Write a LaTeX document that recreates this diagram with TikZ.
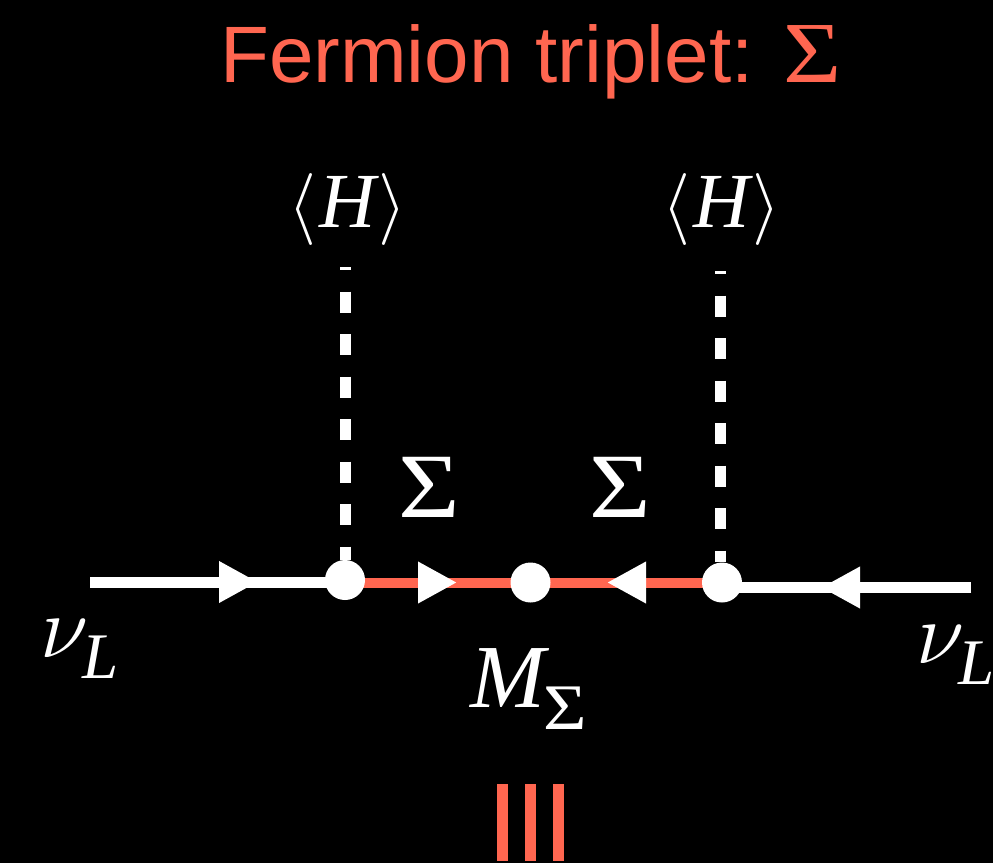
\documentclass[tikz,border=0pt]{standalone}
\usepackage{fix-cm}
\usepackage{fontspec}
\setmainfont{Liberation Serif}
\newfontfamily\titlefont{Liberation Sans}
\usetikzlibrary{arrows.meta}
\definecolor{tripletred}{RGB}{255,102,80}
\newcommand{\fsz}[1]{\fontsize{#1}{#1}\selectfont}
\newcommand{\sig}[1]{{\rmfamily\upshape\fsz{#1}\scalebox{1.15}[1]{Σ}}}
\newcommand{\vevtext}{\fsz{72}$\langle$\kern3pt{\itshape\fsz{78}H}\kern3pt$\rangle$}
\newcommand{\nutext}{\fsz{88}$\nu$\kern-6pt\raisebox{-21pt}{\itshape\fsz{65}L}}
\tikzset{
  lbl/.style    = {text=white, inner sep=0pt, anchor=base west},
  dot/.style    = {circle, fill=white, minimum size=40pt, inner sep=0pt},
  wire/.style   = {draw=white, line width=11pt},
  redwire/.style= {draw=tripletred, line width=10pt},
  vev/.style    = {draw=white, line width=11pt, dash pattern=on 21pt off 21.5pt},
  ar/.style     = {-{Triangle[length=39pt, width=39pt, color=white, fill=white]}},
  bar/.style    = {draw=tripletred, line width=11pt}
}
\begin{document}
\begin{tikzpicture}[x=1pt, y=-1pt]
\fill[black] (0,0) rectangle (993,863);
\useasboundingbox (0,0) rectangle (993,863);

\node[lbl, text=tripletred] (title) at (220,82)
  {\titlefont\fsz{80}Fermion triplet: \sig{87}};

\coordinate (legl) at (90,582);
\coordinate (legr) at (971,587.5);
\coordinate (tipa) at (258,582);
\coordinate (tipb) at (457,582.5);
\coordinate (tipc) at (607,582.5);
\coordinate (tipd) at (821,587.5);
\coordinate (topa) at (345,267);
\coordinate (topb) at (720.5,271);

% fermion line
\draw[redwire] (tipb -| 345,0) -- (tipc -| 722,0);
\draw[wire] (legl) -- (legl -| 345,0);
\draw[wire] (legr) -- (legr -| 722,0);
\draw[wire, ar] (legl) -- (tipa);
\draw[redwire, ar] (tipb -| 345,0) -- (tipb);
\draw[redwire, ar] (tipc -| 722,0) -- (tipc);
\draw[wire, ar] (legr) -- (tipd);

\node[dot] (va) at (345,580) {};
\node[dot] (vm) at (530.5,582.5) {};
\node[dot] (vb) at (722,582.5) {};

% vev insertions
\draw[vev, dash phase=18pt] (topa) -- (topa |- va.north);
\draw[vev, dash phase=18pt] (topb) -- (topb |- vb.north);

\node[lbl] (hleft) at (288,227) {\vevtext};
\node[lbl] (hright) at (662,227) {\vevtext};
\node[lbl] (sigl) at (398,517) {\sig{92}};
\node[lbl] (sigr) at (589,517) {\sig{92}};
\node[lbl] (nul) at (40,657) {\nutext};
\node[lbl] (nur) at (916,663) {\nutext};
\node[lbl] (mass) at (470,707) {\fsz{90}\itshape M\kern-2pt\raisebox{-22pt}{\sig{65}}};

% equals sign
\foreach \x in {502.5,530.5,558.5}
  \draw[bar] (\x,784) -- (\x,861);
\end{tikzpicture}
\end{document}
